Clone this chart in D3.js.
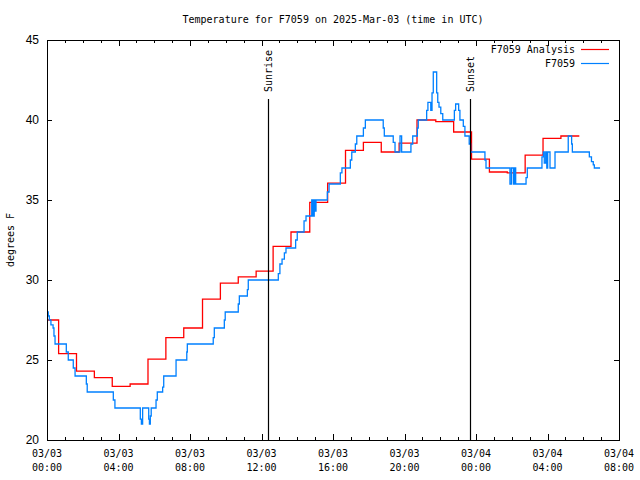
<!DOCTYPE html>
<html><head><meta charset="utf-8">
<script src="https://cdn.jsdelivr.net/npm/d3@7"></script>
<style>body{margin:0;background:#fff}svg{display:block}</style>
</head><body><svg id="c" width="640" height="480"></svg>
<script>
// ---- data ----
const title = "Temperature for F7059 on 2025-Mar-03 (time in UTC)";
const yLabel = "degrees F";
const xTickHours = [0,4,8,12,16,20,24,28,32];
const xTickDates = ["03/03","03/03","03/03","03/03","03/03","03/03","03/04","03/04","03/04"];
const xTickTimes = ["00:00","04:00","08:00","12:00","16:00","20:00","00:00","04:00","08:00"];
const yTicks = [20,25,30,35,40,45];
const seriesNames = ["F7059 Analysis","F7059"];
const sunEvents = ["Sunrise","Sunset"];
const sunHours = [12.36,23.64];

const analysisHours = [0,0.65,1.65,2.65,3.65,4.65,5.65,6.65,7.65,8.7,9.7,10.7,11.7,12.65,13.65,14.7,15.7,16.7,17.7,18.7,19.7,20.7,21.75,22.75,23.75,24.75,25.75,26.75,27.75,28.75,29.78];
const analysisTemps = [27.5,25.4,24.3,23.9,23.35,23.5,25.05,26.4,27.0,28.8,29.8,30.2,30.55,32.1,33.0,34.85,36.05,38.1,38.6,38.0,38.55,40.0,39.9,39.25,37.55,36.75,36.7,37.8,38.85,39.0,39.0];

const obsHours = [0,0.07,0.13,0.22,0.34,0.39,0.45,1.08,1.19,1.47,
 1.57,2.20,2.25,3.71,3.80,5.22,5.28,5.35,5.69,5.73,
 5.78,5.83,6.10,6.17,6.47,6.53,7.22,7.82,7.85,9.30,
 9.36,9.92,9.97,10.70,10.76,11.21,11.26,12.94,13.03,13.15,
 13.28,13.37,13.91,14.00,14.38,14.49,14.81,14.88,14.95,15.01,
 15.05,15.68,15.78,16.41,16.50,16.97,17.05,17.25,17.33,17.70,
 17.81,18.81,18.87,19.37,19.47,19.75,19.84,20.36,20.46,20.72,
 20.77,21.24,21.31,21.47,21.54,21.61,21.80,21.86,21.93,22.03,
 22.14,22.79,22.86,23.03,23.10,23.29,23.38,23.62,23.70,24.50,
 24.56,25.90,25.98,26.09,26.15,26.22,26.80,26.87,27.69,27.77,
 27.82,27.90,27.96,28.01,28.14,28.42,29.16,29.35,29.39,30.34,
 30.46,30.56,30.62,30.94];
const obsTemps = [28,27.75,27.5,27.2,27.0,26.5,26,25.5,25,24.5,
 24,23.5,23,22.5,22,21.3,21,22,21.3,21,
 21.5,22,22.5,23,23.3,24,25,25.5,26,26.4,
 27,27.5,28,28.5,29,29.4,30,30.4,31,31.3,
 31.7,32,32.5,33,33.7,34,35,34,35,34.3,
 35,35.5,36,36.7,37,37.5,38,38.5,39,39.5,
 40,39.5,39,38.6,38,39,38,38.5,39,39.5,
 40,40.6,41.1,40.6,41.7,43,41.7,41.1,40.8,40.4,
 40,40.6,41,40.6,40,39.6,39,38.5,38,37.5,
 37,36,37,36,37,36,36.4,37,37.7,38,
 37.3,38,37,38,37,38,39,38.5,38,37.7,
 37.4,37.2,37,37];

// ---- chart ----
const L=47,R=619,T=40,B=440;
const svg=d3.select("#c");
const x=d3.scaleLinear().domain([0,32]).range([L,R]);
const y=d3.scaleLinear().domain([20,45]).range([B,T]);
const mono="'DejaVu Sans Mono','Liberation Mono',monospace";
const sans="'Liberation Sans',Arial,sans-serif";

svg.append("text").attr("x",(L+R)/2).attr("y",23).attr("text-anchor","middle")
 .attr("font-family",mono).attr("font-size",10).text(title);

// axes
const minorHours=d3.range(0,33,1);
const gb=svg.append("g").attr("transform",`translate(0,${B})`)
 .call(d3.axisBottom(x).tickValues(xTickHours).tickSize(-6).tickFormat(""));
const gb2=svg.append("g").attr("transform",`translate(0,${B})`)
 .call(d3.axisBottom(x).tickValues(minorHours.filter(h=>h%4)).tickSize(-3).tickFormat(""));
const gt=svg.append("g").attr("transform",`translate(0,${T})`)
 .call(d3.axisTop(x).tickValues(xTickHours).tickSize(-6).tickFormat(""));
const gt2=svg.append("g").attr("transform",`translate(0,${T})`)
 .call(d3.axisTop(x).tickValues(minorHours.filter(h=>h%4)).tickSize(-3).tickFormat(""));
const gl=svg.append("g").attr("transform",`translate(${L},0)`)
 .call(d3.axisLeft(y).tickValues(yTicks).tickSize(-5).tickPadding(8).tickFormat(d3.format("d")));
const gr=svg.append("g").attr("transform",`translate(${R},0)`)
 .call(d3.axisRight(y).tickValues(yTicks).tickSize(-5).tickFormat(""));
[gb,gb2,gt,gt2,gl,gr].forEach(g=>{g.select(".domain").remove();
 g.selectAll("line").attr("stroke","#000").attr("shape-rendering","crispEdges");});
gl.selectAll("text").attr("font-family",sans).attr("font-size",12).attr("fill","#000");

// x tick labels (two lines)
const xl=svg.append("g").selectAll("g").data(xTickHours).join("g");
xl.append("text").attr("x",d=>x(d)).attr("y",457).text((d,i)=>xTickDates[i]);
xl.append("text").attr("x",d=>x(d)).attr("y",471).text((d,i)=>xTickTimes[i]);
xl.selectAll("text").attr("text-anchor","middle").attr("font-family",mono).attr("font-size",10);

// y label
svg.append("text").attr("transform","translate(14,240) rotate(-90)").attr("text-anchor","middle")
 .attr("font-family",mono).attr("font-size",10).text(yLabel);

// series
const line=d3.line().x(d=>x(d[0])).y(d=>y(d[1])).curve(d3.curveStepAfter);
const aData=analysisHours.map((h,i)=>[h,analysisTemps[i]]);
const oData=obsHours.map((h,i)=>[h,obsTemps[i]]);
const colors=["#ff0000","#0080ff"];
svg.append("path").datum(aData).attr("d",line).attr("fill","none").attr("stroke",colors[0]).attr("stroke-width",1.3);
svg.append("path").datum(oData).attr("d",line).attr("fill","none").attr("stroke",colors[1]).attr("stroke-width",1.3);

// sunrise / sunset
sunHours.forEach((h,i)=>{
 svg.append("line").attr("x1",Math.round(x(h))+0.5).attr("x2",Math.round(x(h))+0.5)
  .attr("y1",99).attr("y2",B).attr("stroke","#000").attr("stroke-width",1.2);
 svg.append("text").attr("transform",`translate(${x(h)+4},92) rotate(-90)`)
  .attr("font-family",mono).attr("font-size",10).text(sunEvents[i]);
});

// frame
svg.append("rect").attr("x",L+0.5).attr("y",T+0.5).attr("width",R-L).attr("height",B-T)
 .attr("fill","none").attr("stroke","#000").attr("shape-rendering","crispEdges");

// legend
seriesNames.forEach((n,i)=>{
 const ly=49+i*14;
 svg.append("text").attr("x",575).attr("y",ly+4).attr("text-anchor","end")
  .attr("font-family",mono).attr("font-size",10).text(n);
 svg.append("line").attr("x1",581).attr("x2",609).attr("y1",ly+0.5).attr("y2",ly+0.5)
  .attr("stroke",colors[i]).attr("stroke-width",1.2);
});
</script></body></html>
